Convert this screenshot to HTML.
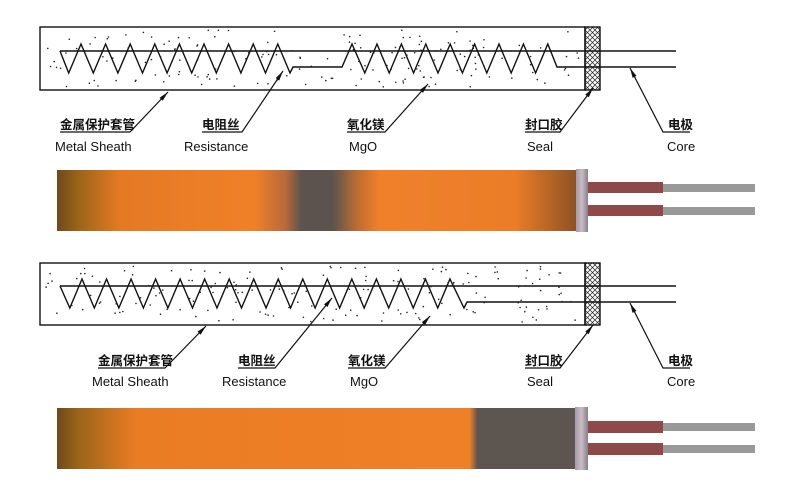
<!DOCTYPE html>
<html><head><meta charset="utf-8"><style>
html,body{margin:0;padding:0;background:#fff;width:800px;height:488px;overflow:hidden}
svg{display:block}
.cn{font-family:"Liberation Sans","Noto Sans CJK SC",sans-serif;font-size:12.5px;font-weight:bold;fill:#111}
.en{font-family:"Liberation Sans","Noto Sans CJK SC",sans-serif;font-size:13px;fill:#111}
</style></head><body>
<svg id="s" width="800" height="488" viewBox="0 0 800 488" xmlns="http://www.w3.org/2000/svg">
<defs>
<pattern id="hatch" width="5" height="5" patternUnits="userSpaceOnUse">
<path d="M0,0L5,5M5,0L0,5" stroke="#222" stroke-width="0.7"/>
</pattern>
<marker id="ar" markerWidth="10" markerHeight="6" refX="10" refY="3" orient="auto" markerUnits="userSpaceOnUse">
<path d="M0,0.8L10,3L0,5.2z" fill="#111"/>
</marker>
<linearGradient id="g1" x1="0" x2="1">
<stop offset="0" stop-color="#6d4a1a"/>
<stop offset="0.04" stop-color="#9a6418"/>
<stop offset="0.12" stop-color="#e47a24"/>
<stop offset="0.38" stop-color="#f08028"/>
<stop offset="0.44" stop-color="#b8693a"/>
<stop offset="0.47" stop-color="#5c534e"/>
<stop offset="0.53" stop-color="#5c534e"/>
<stop offset="0.58" stop-color="#c26e30"/>
<stop offset="0.62" stop-color="#f0802a"/>
<stop offset="0.88" stop-color="#ec7d28"/>
<stop offset="1" stop-color="#8c5224"/>
</linearGradient>
<linearGradient id="g2" x1="0" x2="1">
<stop offset="0" stop-color="#6d4a1a"/>
<stop offset="0.04" stop-color="#9a6418"/>
<stop offset="0.15" stop-color="#ea7c24"/>
<stop offset="0.78" stop-color="#f08028"/>
<stop offset="0.795" stop-color="#f08028"/>
<stop offset="0.81" stop-color="#5d5550"/>
<stop offset="1" stop-color="#5d5550"/>
</linearGradient>
<linearGradient id="sealg" x1="0" x2="1">
<stop offset="0" stop-color="#a89aa8"/><stop offset="0.5" stop-color="#c8bcc6"/><stop offset="1" stop-color="#8a7e88"/>
</linearGradient>
</defs>

<g id="d1" stroke="#111" stroke-width="1.4" fill="none">
<rect x="40" y="27" width="545" height="63" fill="#fff"/>
<rect x="585" y="27" width="15" height="63" fill="url(#hatch)"/>
<line x1="60" y1="51" x2="676" y2="51"/>
<path id="z1" d=""/>
</g>
<g id="d2" stroke="#111" stroke-width="1.4" fill="none">
<rect x="40" y="263" width="545" height="62" fill="#fff"/>
<rect x="585" y="263" width="15" height="62" fill="url(#hatch)"/>
<line x1="60" y1="286" x2="676" y2="286"/>
<path id="z2" d=""/>
</g>
<g id="dots" fill="#222"></g>

<g stroke="#111" stroke-width="1.2" fill="none">
<path d="M60,132H130L168,92" marker-end="url(#ar)"/>
<path d="M202,132H242L283,71" marker-end="url(#ar)"/>
<path d="M347,132H385L428,84" marker-end="url(#ar)"/>
<path d="M525,132H560L593,88" marker-end="url(#ar)"/>
<path d="M690,132H663L630,68" marker-end="url(#ar)"/>
<path d="M98,368H165L206,326" marker-end="url(#ar)"/>
<path d="M238,368H275L332,298" marker-end="url(#ar)"/>
<path d="M348,368H385L430,316" marker-end="url(#ar)"/>
<path d="M525,368H560L593,325" marker-end="url(#ar)"/>
<path d="M690,368H663L630,303" marker-end="url(#ar)"/>
</g>
<g>
<text class="cn" x="60" y="129">金属保护套管</text>
<text class="en" x="55" y="151">Metal Sheath</text>
<text class="cn" x="202" y="129">电阻丝</text>
<text class="en" x="184" y="151">Resistance</text>
<text class="cn" x="347" y="129">氧化镁</text>
<text class="en" x="349" y="151">MgO</text>
<text class="cn" x="525" y="129">封口胶</text>
<text class="en" x="527" y="151">Seal</text>
<text class="cn" x="668" y="129">电极</text>
<text class="en" x="667" y="151">Core</text>

<text class="cn" x="98" y="365">金属保护套管</text>
<text class="en" x="92" y="386">Metal Sheath</text>
<text class="cn" x="238" y="365">电阻丝</text>
<text class="en" x="222" y="386">Resistance</text>
<text class="cn" x="348" y="365">氧化镁</text>
<text class="en" x="350" y="386">MgO</text>
<text class="cn" x="525" y="365">封口胶</text>
<text class="en" x="527" y="386">Seal</text>
<text class="cn" x="668" y="365">电极</text>
<text class="en" x="667" y="386">Core</text>
</g>

<rect x="57" y="170" width="520" height="61" fill="url(#g1)"/>
<rect x="576" y="169" width="12" height="63" fill="url(#sealg)"/>
<rect x="588" y="182" width="75" height="11" fill="#8e4a48"/>
<rect x="588" y="205" width="75" height="11" fill="#8e4a48"/>
<rect x="663" y="184" width="92" height="8" fill="#999"/>
<rect x="663" y="207" width="92" height="8" fill="#999"/>
<rect x="57" y="408" width="519" height="61" fill="url(#g2)"/>
<rect x="575" y="407" width="13" height="63" fill="url(#sealg)"/>
<rect x="588" y="421" width="75" height="12" fill="#8e4a48"/>
<rect x="588" y="443" width="75" height="12" fill="#8e4a48"/>
<rect x="663" y="423" width="92" height="8" fill="#999"/>
<rect x="663" y="445" width="92" height="8" fill="#999"/>
</svg>
<script>
(function(){
var i;
var d1="M60,51";
for(i=0;i<9;i++){var a=81+i*24.6;d1+=" L"+(a-12.3)+",73 L"+a+",44";}
d1+=" L290,73 L293,67 L342,67 L352,44";
for(i=0;i<8;i++){var pk=377+i*24.4;d1+=" L"+(pk-12.2)+",73 L"+pk+",44";}
d1+=" L557,67 L676,67";
document.getElementById("z1").setAttribute("d",d1);
var d2="M60,286";
for(i=0;i<16;i++){var q=82+i*24.53;d2+=" L"+(q-12.2)+",308 L"+q+",279";}
d2+=" L464,308 L467,302 L676,302";
document.getElementById("z2").setAttribute("d",d2);
var s=12345;function r(){s=(s*1103515245+12345)%2147483648;return s/2147483648;}
var g=document.getElementById("dots"),ns="http://www.w3.org/2000/svg";
[[27,90],[263,325]].forEach(function(yy){
 for(var k=0;k<170;k++){
  var c=document.createElementNS(ns,"circle");
  c.setAttribute("cx",(43+r()*538).toFixed(1));
  c.setAttribute("cy",(yy[0]+3+r()*(yy[1]-yy[0]-6)).toFixed(1));
  c.setAttribute("r","0.8");g.appendChild(c);
 }
});
})();
</script>
</body></html>
